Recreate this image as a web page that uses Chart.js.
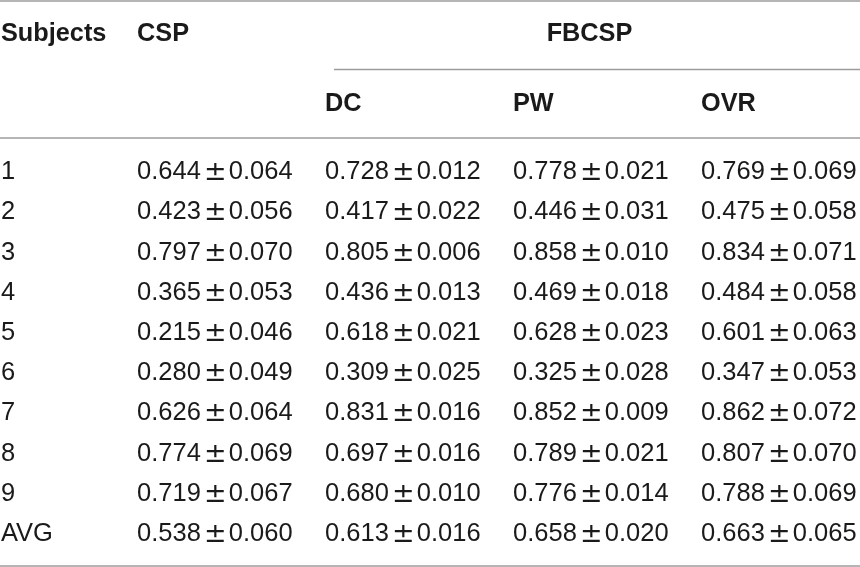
<!DOCTYPE html>
<html>
<head>
<meta charset="utf-8">
<script src="https://cdn.jsdelivr.net/npm/chart.js@4.4.1/dist/chart.umd.min.js"></script>
<style>
  html, body { margin: 0; padding: 0; background: #fff; }
  canvas { display: block; }
</style>
</head>
<body>
<canvas id="resultTable" width="860" height="567"></canvas>
<script>
// table content
const subjects = ['1', '2', '3', '4', '5', '6', '7', '8', '9', 'AVG'];
const methods = ['CSP', 'DC', 'PW', 'OVR'];
const groupLabel = 'FBCSP';
const rowHeader = 'Subjects';

const cspMean = [0.644, 0.423, 0.797, 0.365, 0.215, 0.280, 0.626, 0.774, 0.719, 0.538];
const cspStd  = [0.064, 0.056, 0.070, 0.053, 0.046, 0.049, 0.064, 0.069, 0.067, 0.060];
const dcMean  = [0.728, 0.417, 0.805, 0.436, 0.618, 0.309, 0.831, 0.697, 0.680, 0.613];
const dcStd   = [0.012, 0.022, 0.006, 0.013, 0.021, 0.025, 0.016, 0.016, 0.010, 0.016];
const pwMean  = [0.778, 0.446, 0.858, 0.469, 0.628, 0.325, 0.852, 0.789, 0.776, 0.658];
const pwStd   = [0.021, 0.031, 0.010, 0.018, 0.023, 0.028, 0.009, 0.021, 0.014, 0.020];
const ovrMean = [0.769, 0.475, 0.834, 0.484, 0.601, 0.347, 0.862, 0.807, 0.788, 0.663];
const ovrStd  = [0.069, 0.058, 0.071, 0.058, 0.063, 0.053, 0.072, 0.070, 0.069, 0.065];

(function(){
  const TEXT = '#1a1a1a';
  const RULE = '#9c9c9c';
  const BODY_FONT = "25.5px 'Liberation Sans', Arial, sans-serif";
  const PM_FONT = "27px 'DejaVu Sans', sans-serif";
  const HEAD_FONT = "bold 25.3px 'Liberation Sans', Arial, sans-serif";

  const means = [cspMean, dcMean, pwMean, ovrMean];
  const stds = [cspStd, dcStd, pwStd, ovrStd];

  function rule(ctx, x1, x2, y){
    ctx.beginPath();
    ctx.moveTo(x1, y);
    ctx.lineTo(x2, y);
    ctx.stroke();
  }

  // mean, then a wide plus-minus sign, then the std
  function drawCell(ctx, m, s, x, yb){
    ctx.font = BODY_FONT;
    ctx.textAlign = 'left';
    const mean = m.toFixed(3);
    const mw = ctx.measureText(mean).width;
    ctx.fillText(mean, x, yb);
    ctx.fillText(s.toFixed(3), x + mw + 28, yb);
    ctx.font = PM_FONT;
    ctx.textAlign = 'center';
    ctx.fillText('\u00b1', x + mw + 14.5, yb + 1);
  }

  const tablePlugin = {
    id: 'tablePlugin',
    afterDraw(chart){
      const ctx = chart.ctx;
      const { x, y } = chart.scales;
      const area = chart.chartArea;
      const W = chart.width;
      ctx.save();

      // rules
      ctx.strokeStyle = RULE;
      ctx.lineWidth = 1.5;
      rule(ctx, 0, W, 1);
      rule(ctx, x.getPixelForValue(1) + 9, W, 69.5);
      rule(ctx, 0, W, area.top - 12);
      rule(ctx, 0, W, area.bottom + 14);

      // headers
      ctx.fillStyle = TEXT;
      ctx.font = HEAD_FONT;
      ctx.textBaseline = 'alphabetic';
      ctx.textAlign = 'left';
      const head1 = area.top - 109;
      const head2 = area.top - 39;
      ctx.fillText(rowHeader, 1, head1);
      ctx.fillText(methods[0], x.getPixelForValue(0), head1);
      for (let i = 1; i < methods.length; i++) {
        ctx.fillText(methods[i], x.getPixelForValue(i), head2);
      }
      ctx.textAlign = 'center';
      ctx.fillText(groupLabel, (x.getPixelForValue(1) + W) / 2 - 3, head1);

      // body cells
      subjects.forEach((s, k) => {
        const yb = y.getPixelForValue(k) + 9.1;
        ctx.font = BODY_FONT;
        ctx.textAlign = 'left';
        ctx.fillText(s, 1, yb);
        methods.forEach((m, i) => {
          drawCell(ctx, means[i][k], stds[i][k], x.getPixelForValue(i), yb);
        });
      });
      ctx.restore();
    }
  };

  function initTable(){
    const canvas = document.getElementById('resultTable');
    new Chart(canvas.getContext('2d'), {
      type: 'scatter',
      data: { datasets: [] },
      options: {
        responsive: false,
        animation: false,
        events: [],
        layout: { padding: { left: 137, right: 159, top: 150, bottom: 15 } },
        plugins: { legend: { display: false }, tooltip: { enabled: false } },
        scales: {
          x: { type: 'category', labels: methods, offset: false, display: false },
          y: { type: 'category', labels: subjects, offset: true, display: false }
        }
      },
      plugins: [tablePlugin]
    });
  }

  if (document.readyState === 'loading') document.addEventListener('DOMContentLoaded', initTable); else initTable();
})();
</script>
</body>
</html>
